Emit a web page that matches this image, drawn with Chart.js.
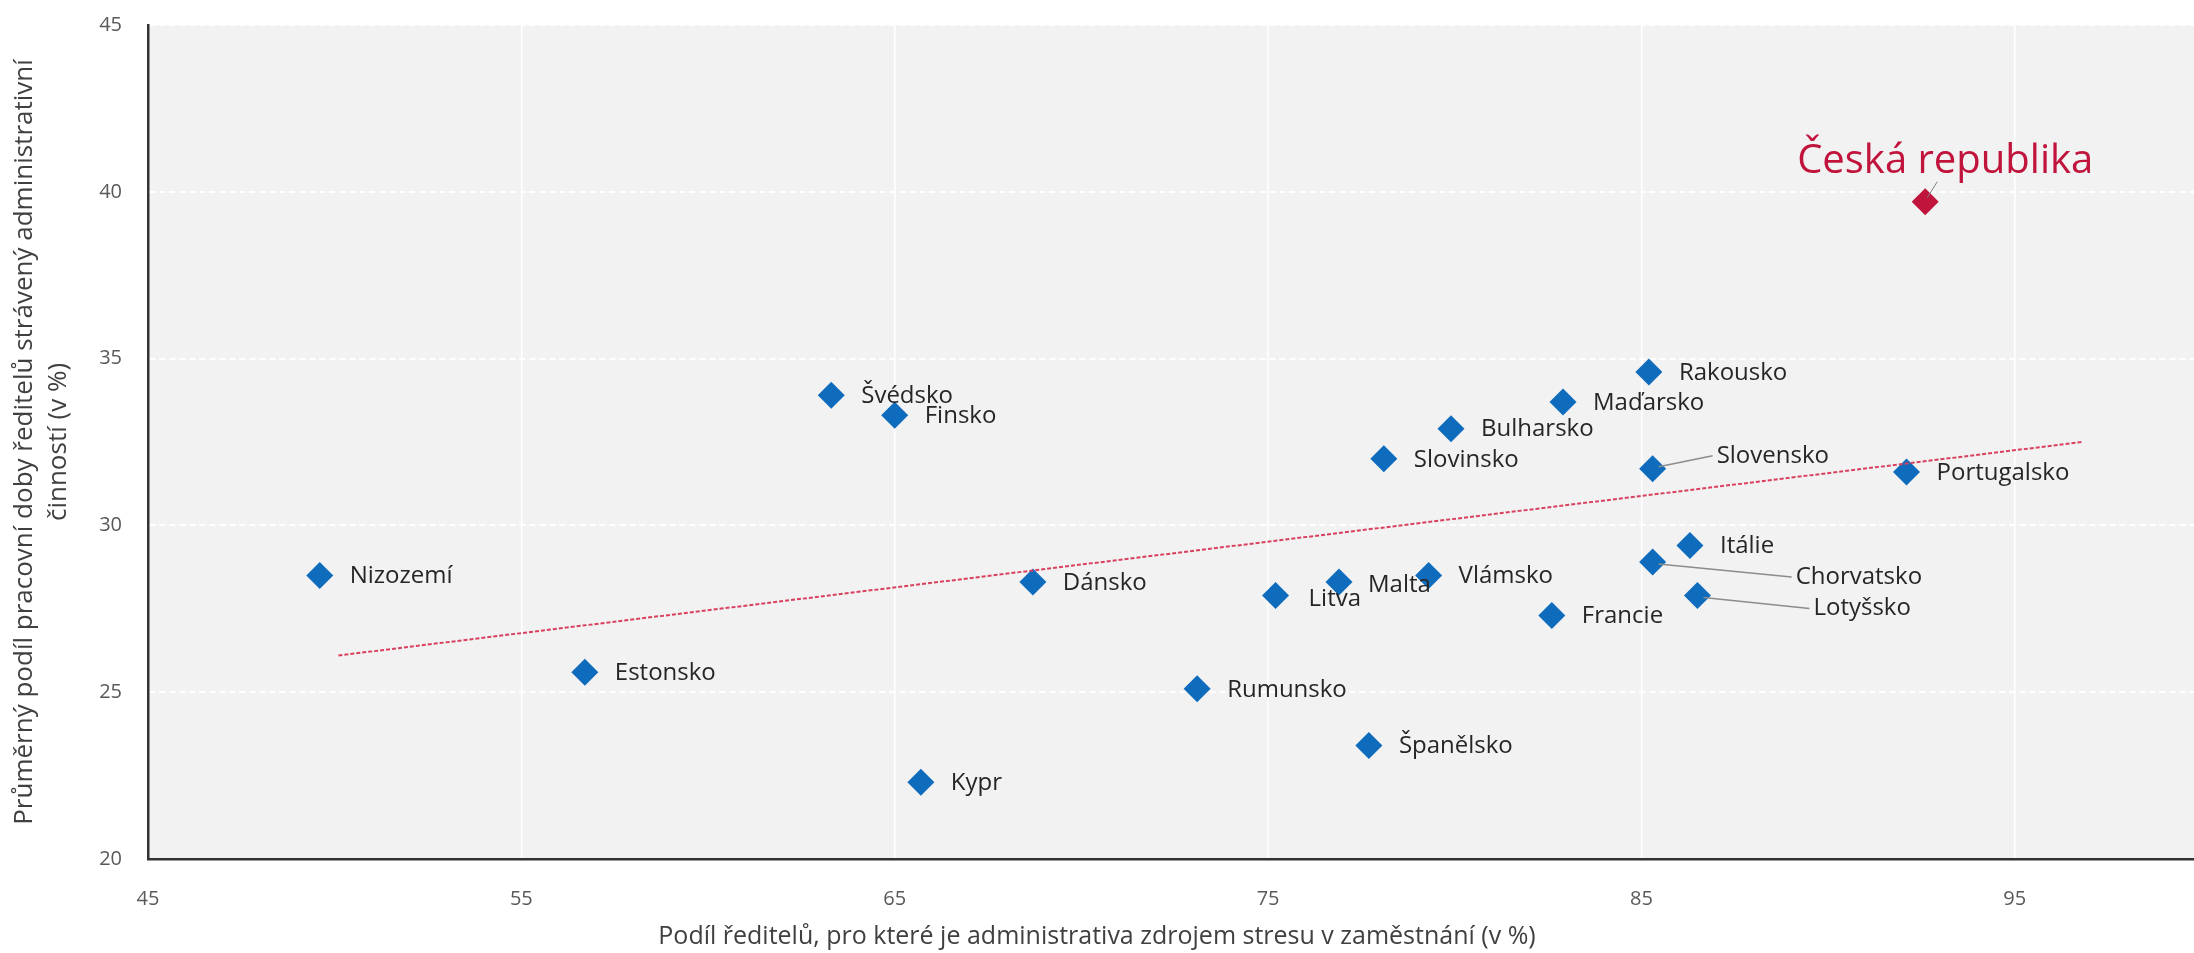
<!DOCTYPE html>
<html>
<head>
<meta charset="utf-8">
<script src="https://cdn.jsdelivr.net/npm/chart.js@4"></script>
<style>
  html, body { margin: 0; padding: 0; background: #fff; overflow: hidden; }
  canvas { display: block; }
</style>
</head>
<body>
<canvas id="chart" width="2194" height="953"></canvas>
<script>
// data
const countries = ['Nizozemí','Estonsko','Švédsko','Finsko','Kypr','Dánsko','Rumunsko','Litva','Malta','Španělsko',
  'Slovinsko','Vlámsko','Bulharsko','Francie','Maďarsko','Rakousko','Slovensko','Chorvatsko','Itálie','Lotyšsko',
  'Portugalsko','Česká republika'];
const stressShare = [49.6, 56.7, 63.3, 65.0, 65.7, 68.7, 73.1, 75.2, 76.9, 77.7,
  78.1, 79.3, 79.9, 82.6, 82.9, 85.2, 85.3, 85.3, 86.3, 86.5, 92.1, 92.6];
const adminTime = [28.5, 25.6, 33.9, 33.3, 22.3, 28.3, 25.1, 27.9, 28.3, 23.4,
  32.0, 28.5, 32.9, 27.3, 33.7, 34.6, 31.7, 28.9, 29.4, 27.9, 31.6, 39.7];
const trendX = [50.1, 96.8];
const trendY = [26.1, 32.5];
const xTicks = [45, 55, 65, 75, 85, 95];
const yTicks = [20, 25, 30, 35, 40, 45];

const highlight = 'Česká republika';
const blue = '#0f6cbd', red = '#c0143c';
const xTitle = 'Podíl ředitelů, pro které je administrativa zdrojem stresu v zaměstnání (v %)';

// label placement in px relative to the marker
const labelPos = {
  'Litva': [33, 4], 'Malta': [29, 3],
  'Slovensko': [64, -13, true], 'Chorvatsko': [143, 15, true], 'Lotyšsko': [116, 13, true]
};

const bgPlugin = {
  id: 'bg',
  beforeDraw(chart) {
    const { ctx, chartArea: a } = chart;
    ctx.save();
    ctx.fillStyle = '#f2f2f2';
    ctx.fillRect(a.left, a.top, a.right - a.left, a.bottom - a.top);
    ctx.restore();
  },
  afterDraw(chart) {
    // x axis title is centred on the whole picture, not on the plot
    const ctx = chart.ctx;
    ctx.save();
    ctx.fillStyle = '#404040';
    ctx.font = '25px "Open Sans", sans-serif';
    ctx.textAlign = 'center';
    ctx.textBaseline = 'middle';
    ctx.fillText(xTitle, chart.width / 2, 937);
    ctx.restore();
  }
};

const labelPlugin = {
  id: 'pointLabels',
  afterDatasetsDraw(chart) {
    const ctx = chart.ctx;
    const meta = chart.getDatasetMeta(1);
    ctx.save();
    meta.data.forEach((pt, i) => {
      const name = countries[i];
      if (name === highlight) {
        ctx.strokeStyle = '#7f7f7f';
        ctx.lineWidth = 1;
        ctx.beginPath();
        ctx.moveTo(pt.x + 2, pt.y - 4);
        ctx.lineTo(pt.x + 12, pt.y - 20);
        ctx.stroke();
        ctx.fillStyle = red;
        ctx.font = '40px "Open Sans", sans-serif';
        ctx.textAlign = 'center';
        ctx.textBaseline = 'middle';
        ctx.fillText(name, pt.x + 20, pt.y - 40);
        return;
      }
      const p = labelPos[name] || [30, 1];
      const tx = pt.x + p[0], ty = pt.y + p[1];
      if (p[2]) {
        ctx.strokeStyle = '#8c8c8c';
        ctx.lineWidth = 1.5;
        ctx.beginPath();
        ctx.moveTo(pt.x + 6, pt.y + (p[1] > 0 ? 2 : -2));
        ctx.lineTo(tx - 4, ty);
        ctx.stroke();
      }
      ctx.fillStyle = '#262626';
      ctx.font = '24px "Open Sans", sans-serif';
      ctx.textAlign = 'left';
      ctx.textBaseline = 'middle';
      ctx.fillText(name, tx, ty);
    });
    ctx.restore();
  }
};

new Chart(document.getElementById('chart'), {
  type: 'scatter',
  data: {
    datasets: [
      {
        type: 'line',
        data: trendX.map((x, i) => ({ x, y: trendY[i] })),
        borderColor: '#d9405e',
        borderWidth: 2,
        borderDash: [4, 2],
        pointRadius: 0,
        fill: false
      },
      {
        data: stressShare.map((x, i) => ({ x, y: adminTime[i] })),
        pointStyle: 'rectRot',
        pointRadius: 13.5,
        pointHoverRadius: 13.5,
        pointBackgroundColor: countries.map(c => c === highlight ? red : blue),
        pointBorderColor: countries.map(c => c === highlight ? red : blue),
        pointBorderWidth: 0
      }
    ]
  },
  options: {
    responsive: false,
    devicePixelRatio: 1,
    animation: false,
    layout: { autoPadding: false, padding: { top: 25, right: 0, left: 0, bottom: 0 } },
    plugins: { legend: { display: false }, tooltip: { enabled: false } },
    scales: {
      x: {
        type: 'linear',
        min: 45, max: 99.8,
        afterFit: s => { s.height = 94; s.paddingLeft = 0; s.paddingRight = 0; },
        afterBuildTicks: s => { s.ticks = xTicks.map(v => ({ value: v })); },
        ticks: { color: '#595959', font: { size: 20, family: '"Liberation Sans Narrow", "Open Sans", sans-serif' }, padding: 28 },
        grid: { color: '#ffffff', lineWidth: 1.5, drawTicks: false },
        border: { color: '#333333', width: 2.5 },
        title: { display: false }
      },
      y: {
        min: 20, max: 45,
        afterFit: s => { s.width = 148; s.paddingTop = 0; s.paddingBottom = 0; },
        afterBuildTicks: s => { s.ticks = yTicks.map(v => ({ value: v })); },
        ticks: { color: '#595959', font: { size: 20, family: '"Liberation Sans Narrow", "Open Sans", sans-serif' }, padding: 26 },
        grid: { color: '#ffffff', lineWidth: 2, drawTicks: false },
        border: { color: '#333333', width: 2.5, dash: [6, 4] },
        title: {
          display: true,
          text: ['Průměrný podíl pracovní doby ředitelů strávený administrativní', 'činností (v %)'],
          color: '#404040',
          font: { size: 26, family: '"Open Sans", sans-serif', lineHeight: 1.3 },
          padding: { top: 8, bottom: 0 }
        }
      }
    }
  },
  plugins: [bgPlugin, labelPlugin]
});
</script>
</body>
</html>
